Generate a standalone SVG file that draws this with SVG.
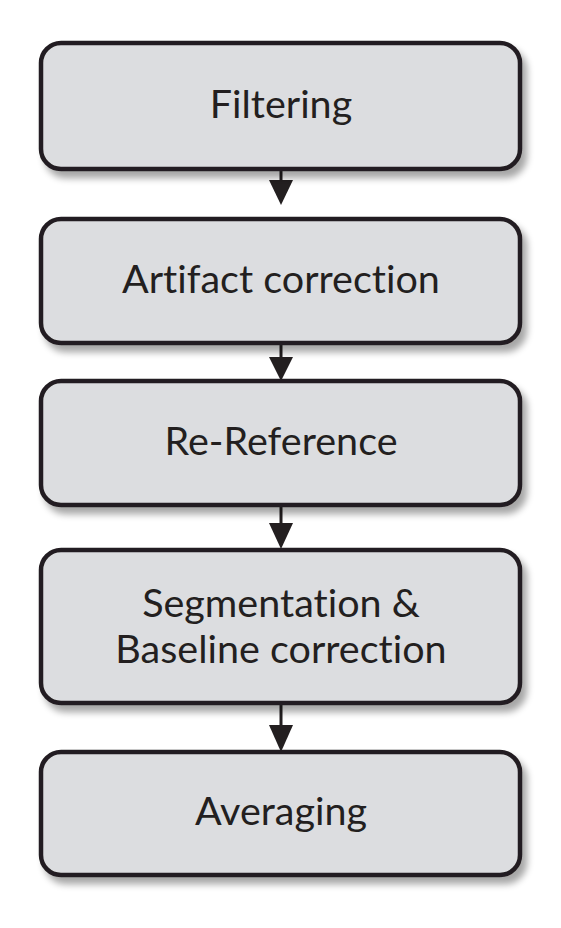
<svg xmlns="http://www.w3.org/2000/svg" width="561" height="928" viewBox="0 0 561 928">
<style>
.box{fill:#dcdde0;stroke:#231f20;stroke-width:4.5;filter:url(#sh)}
.lbl{font-family:Lato,"Open Sans","DejaVu Sans",sans-serif;font-size:39.5px;fill:#231f20;text-anchor:middle;font-variant-ligatures:none;font-feature-settings:"liga" 0}
.con{stroke:#231f20;stroke-width:3;fill:none}
.head{fill:#231f20}
</style>
<defs>
<filter id="sh" x="-10%" y="-10%" width="125%" height="140%">
<feGaussianBlur in="SourceAlpha" stdDeviation="3.5"/>
<feOffset dx="5" dy="7" result="b"/>
<feComponentTransfer><feFuncA type="linear" slope="0.35"/></feComponentTransfer>
<feMerge><feMergeNode/><feMergeNode in="SourceGraphic"/></feMerge>
</filter>
</defs>
<rect width="561" height="928" fill="#fff"/>
<g id="connectors">
<line class="con" x1="281" y1="169" x2="281" y2="185"/><polygon class="head" points="269,180 293,180 281,205"/>
<line class="con" x1="281" y1="343" x2="281" y2="360"/><polygon class="head" points="269,357 293,357 281,381"/>
<line class="con" x1="281" y1="505" x2="281" y2="526"/><polygon class="head" points="269,523 293,523 281,549"/>
<line class="con" x1="281" y1="703" x2="281" y2="728"/><polygon class="head" points="269,725 293,725 281,752"/>
</g>
<g id="n1"><rect class="box" x="41" y="43" width="479" height="126" rx="20"/><text class="lbl" x="281" y="118">Filtering</text></g>
<g id="n2"><rect class="box" x="41" y="219" width="479" height="124" rx="20"/><text class="lbl" x="281" y="293">Artifact correction</text></g>
<g id="n3"><rect class="box" x="41" y="381" width="479" height="124" rx="20"/><text class="lbl" x="281" y="455">Re-Reference</text></g>
<g id="n4"><rect class="box" x="41" y="550" width="479" height="153" rx="20"/><text class="lbl" x="281" y="617">Segmentation &amp;</text><text class="lbl" x="281" y="663">Baseline correction</text></g>
<g id="n5"><rect class="box" x="41" y="752" width="479" height="123" rx="20"/><text class="lbl" x="281" y="825">Averaging</text></g>
</svg>
